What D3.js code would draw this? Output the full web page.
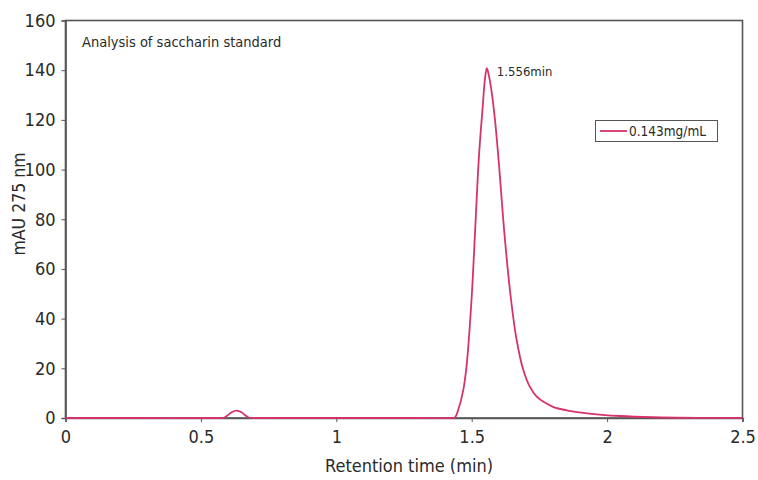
<!DOCTYPE html>
<html><head><meta charset="utf-8">
<script src="https://cdn.jsdelivr.net/npm/d3@7"></script>
<style>
body{margin:0;background:#fff;}
svg text{font-family:"Liberation Sans Narrow","Arial Narrow","DejaVu Sans Condensed",sans-serif;font-stretch:condensed;fill:#2a2a2a;}
</style></head><body>
<svg id="c" width="758" height="480"></svg>
<script>
// Retention time (min) and absorbance (mAU at 275 nm)
const times = [0, 0.30, 0.56, 0.585, 0.60, 0.615, 0.632, 0.65, 0.665, 0.68, 0.70, 0.75, 1.0, 1.30, 1.42, 1.438,
  1.450, 1.469, 1.482, 1.500, 1.512, 1.527, 1.541, 1.549, 1.556, 1.564, 1.574, 1.586, 1.600, 1.621, 1.644,
  1.665, 1.690, 1.715, 1.740, 1.770, 1.800, 1.860, 1.925, 2.048, 2.169, 2.345, 2.5];
const absorbance = [0, 0, 0, 0.1, 1.2, 2.4, 3.0, 2.3, 1.0, 0.1, 0, 0, 0, 0, 0, 0.2,
  3.2, 11.3, 22, 48.8, 74, 105.7, 125.8, 136.5, 140.8, 137.5, 131, 120, 103, 74, 48.8,
  32, 19.5, 12.5, 8.6, 6.2, 4.5, 2.9, 1.9, 0.8, 0.3, 0.05, 0];
const xTicks = [0, 0.5, 1, 1.5, 2, 2.5];
const yTicks = [0, 20, 40, 60, 80, 100, 120, 140, 160];
const seriesName = "0.143mg/mL";
const peakLabel = "1.556min";
const peakTime = 1.556, peakValue = 140.8;
const title = "Analysis of saccharin standard";

const svg = d3.select("#c");
const m = {left: 65.5, top: 20.5, right: 15.5, bottom: 62};
const W = 758, H = 480;
const x = d3.scaleLinear().domain([0, 2.5]).range([m.left, W - m.right]);
const y = d3.scaleLinear().domain([0, 160]).range([H - m.bottom, m.top]);
const lineColor = "#d6336c";
const axisColor = "#555";

// frame
svg.append("rect").attr("x", x(0)).attr("y", y(160)).attr("width", x(2.5) - x(0)).attr("height", y(0) - y(160))
  .attr("fill", "none").attr("stroke", axisColor).attr("stroke-width", 1.6);

// axes
const xa = svg.append("g").attr("transform", `translate(0,${y(0)})`)
  .call(d3.axisBottom(x).tickValues(xTicks).tickSize(4).tickPadding(8).tickFormat(d3.format("")));
const ya = svg.append("g").attr("transform", `translate(${x(0)},0)`)
  .call(d3.axisLeft(y).tickValues(yTicks).tickSize(4).tickPadding(6));
[xa, ya].forEach(g => {
  g.select(".domain").attr("stroke", axisColor).attr("stroke-width", 1.6);
  g.selectAll(".tick line").attr("stroke", axisColor);
  g.selectAll("text").attr("font-size", 18).attr("fill", "#2a2a2a")
    .attr("font-family", null);
});

// curve
const data = times.map((t, i) => ({t, v: absorbance[i]}));
svg.append("path").datum(data)
  .attr("fill", "none").attr("stroke", lineColor).attr("stroke-width", 1.8)
  .attr("d", d3.line().x(d => x(d.t)).y(d => y(d.v)).curve(d3.curveCatmullRom.alpha(0.5)));

// labels
svg.append("text").attr("x", 82).attr("y", 47).attr("font-size", 14.5).text(title);
svg.append("text").attr("x", x(peakTime) + 10).attr("y", y(peakValue) + 8).attr("font-size", 13).text(peakLabel);

svg.append("text").attr("transform", `translate(25,${204}) rotate(-90)`).attr("text-anchor", "middle")
  .attr("font-size", 17.5).text("mAU 275 nm");
svg.append("text").attr("x", 409).attr("y", 472).attr("text-anchor", "middle")
  .attr("font-size", 18).text("Retention time (min)");

// legend
const lg = svg.append("g");
lg.append("rect").attr("x", 595.5).attr("y", 120.5).attr("width", 122).attr("height", 21)
  .attr("fill", "#fff").attr("stroke", axisColor).attr("stroke-width", 1);
lg.append("line").attr("x1", 600).attr("x2", 627).attr("y1", 131).attr("y2", 131)
  .attr("stroke", lineColor).attr("stroke-width", 1.8);
lg.append("text").attr("x", 629).attr("y", 136).attr("font-size", 13.5).text(seriesName);
</script>
</body></html>
